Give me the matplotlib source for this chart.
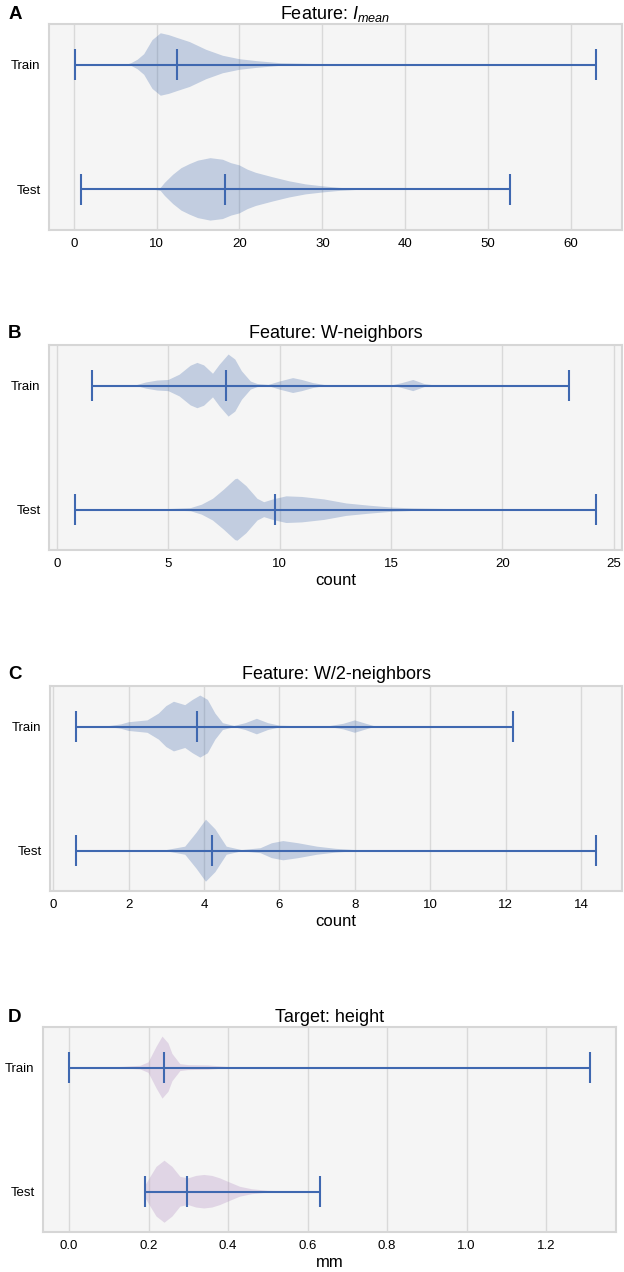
import matplotlib
matplotlib.use("Agg")
import matplotlib.pyplot as plt

plt.rcParams['font.family'] = ['Liberation Sans', 'DejaVu Sans']
plt.rcParams['mathtext.fontset'] = 'custom'
plt.rcParams['mathtext.rm'] = 'Liberation Sans'
plt.rcParams['mathtext.it'] = 'Liberation Sans:italic'

groups = ['Train', 'Test']

# ---- panel A: I_mean (density profiles, relative) ----
a_train_x = [0.15, 6.5, 7.0, 7.7, 8.5, 9.5, 10.5, 11.5, 12.5, 14, 16, 18, 20, 22, 25, 30, 35, 63.0]
a_train_d = [0.0, 0.0, 0.05, 0.15, 0.33, 0.78, 1.0, 0.94, 0.85, 0.72, 0.47, 0.28, 0.17, 0.11, 0.04, 0.01, 0.0, 0.0]
a_train_stats = dict(min=0.15, max=63.0, median=12.4)
a_test_x = [0.87, 9.5, 10.5, 11, 12, 13, 14, 15, 16.5, 18, 19, 20, 21, 22, 24, 26, 28, 30, 32, 34, 36, 52.7]
a_test_d = [0.0, 0.0, 0.05, 0.21, 0.47, 0.68, 0.81, 0.92, 1.0, 0.95, 0.84, 0.77, 0.63, 0.53, 0.39, 0.26, 0.16, 0.1, 0.05, 0.02, 0.0, 0.0]
a_test_stats = dict(min=0.87, max=52.7, median=18.2)

# ---- panel B: W-neighbors ----
b_train_x = [1.6, 3.5, 4.0, 4.5, 5.0, 5.5, 6.0, 6.3, 6.6, 7.0, 7.3, 7.7, 8.0, 8.3, 8.7, 9.0, 9.5,
             10.0, 10.6, 11.0, 11.5, 12.0, 13.0, 15.0, 15.5, 16.0, 16.5, 17.0, 23.0]
b_train_d = [0.0, 0.0, 0.1, 0.16, 0.18, 0.35, 0.64, 0.73, 0.65, 0.38, 0.67, 1.0, 0.84, 0.46, 0.13, 0.05, 0.02,
             0.13, 0.24, 0.18, 0.08, 0.02, 0.0, 0.0, 0.08, 0.18, 0.05, 0.0, 0.0]
b_train_stats = dict(min=1.58, max=23.0, median=7.6)
b_test_x = [0.8, 4.5, 5.0, 6.0, 6.5, 7.0, 7.5, 8.0, 8.1, 8.5, 9.0, 9.3, 9.7, 10.3, 11.0, 12.0, 13.0,
            14.0, 15.0, 16.0, 18.0, 20.0, 22.0, 24.2]
b_test_d = [0.0, 0.0, 0.02, 0.05, 0.16, 0.35, 0.65, 0.98, 1.0, 0.76, 0.35, 0.24, 0.33, 0.43, 0.41, 0.33, 0.2,
            0.13, 0.07, 0.04, 0.015, 0.005, 0.0, 0.0]
b_test_stats = dict(min=0.8, max=24.2, median=9.8)

# ---- panel C: W/2-neighbors ----
c_train_x = [0.6, 1.3, 1.5, 1.8, 2.0, 2.5, 2.8, 3.0, 3.2, 3.5, 3.7, 3.9, 4.1, 4.3, 4.5, 4.8, 5.1, 5.4,
             5.7, 6.0, 6.5, 7.3, 7.7, 8.0, 8.3, 8.5, 9.0, 12.2]
c_train_d = [0.0, 0.0, 0.02, 0.07, 0.14, 0.2, 0.42, 0.66, 0.8, 0.69, 0.86, 1.0, 0.86, 0.42, 0.11, 0.02, 0.11, 0.25,
             0.11, 0.03, 0.01, 0.01, 0.09, 0.2, 0.09, 0.02, 0.0, 0.0]
c_train_stats = dict(min=0.6, max=12.2, median=3.8)
c_test_x = [0.6, 2.5, 3.0, 3.5, 3.8, 4.05, 4.3, 4.6, 5.0, 5.5, 5.8, 6.1, 6.5, 7.0, 7.5, 8.0, 9.0, 14.4]
c_test_d = [0.0, 0.01, 0.02, 0.13, 0.58, 1.0, 0.69, 0.13, 0.02, 0.08, 0.24, 0.31, 0.24, 0.13, 0.06, 0.02, 0.0, 0.0]
c_test_stats = dict(min=0.6, max=14.4, median=4.2)

# ---- panel D: height (mm) ----
d_train_x = [0.0, 0.1, 0.13, 0.18, 0.2, 0.22, 0.235, 0.25, 0.26, 0.28, 0.3, 0.35, 0.4, 0.45, 1.31]
d_train_d = [0.0, 0.0, 0.02, 0.06, 0.17, 0.67, 1.0, 0.78, 0.44, 0.11, 0.08, 0.07, 0.02, 0.0, 0.0]
d_train_stats = dict(min=0.0, max=1.31, median=0.24)
d_test_x = [0.19, 0.2, 0.22, 0.24, 0.26, 0.28, 0.3, 0.32, 0.34, 0.36, 0.38, 0.4, 0.43, 0.46, 0.5, 0.55, 0.63]
d_test_d = [0.16, 0.38, 0.8, 1.0, 0.8, 0.48, 0.43, 0.51, 0.54, 0.51, 0.43, 0.32, 0.16, 0.08, 0.03, 0.01, 0.0]
d_test_stats = dict(min=0.19, max=0.63, median=0.297)

panels = [
    ('A', r'Feature: $I_{mean}$', None, [(a_train_x, a_train_d, a_train_stats), (a_test_x, a_test_d, a_test_stats)], '#4c72b0'),
    ('B', 'Feature: W-neighbors', 'count', [(b_train_x, b_train_d, b_train_stats), (b_test_x, b_test_d, b_test_stats)], '#4c72b0'),
    ('C', 'Feature: W/2-neighbors', 'count', [(c_train_x, c_train_d, c_train_stats), (c_test_x, c_test_d, c_test_stats)], '#4c72b0'),
    ('D', 'Target: height', 'mm', [(d_train_x, d_train_d, d_train_stats), (d_test_x, d_test_d, d_test_stats)], '#b28dc0'),
]

# axes boxes in figure fraction: left, bottom, width, height
boxes = [
    [0.0785, 0.8192, 0.918, 0.162],
    [0.0785, 0.5676, 0.918, 0.161],
    [0.080, 0.2995, 0.917, 0.161],
    [0.069, 0.0314, 0.918, 0.161],
]
# gap between axes top and title baseline, in pixels
title_gaps = [5, 7, 7, 5]

line_col = '#3f68b0'

fig = plt.figure(figsize=(6.24, 12.72), dpi=100)

for (letter, title, xlabel, series, body_col), box, gap in zip(panels, boxes, title_gaps):
    ax = fig.add_axes(box)
    ax.set_facecolor('#f5f5f5')
    vpstats = []
    for xs, ds, st in series:
        vpstats.append(dict(coords=xs, vals=ds, mean=st['median'],
                            median=st['median'], min=st['min'], max=st['max']))
    parts = ax.violin(vpstats, positions=[1, 2], vert=False, widths=0.5,
                      showmeans=False, showextrema=True, showmedians=True)
    for b in parts['bodies']:
        b.set_facecolor(body_col)
        b.set_edgecolor('none')
        b.set_alpha(0.3)
    for key in ['cmins', 'cmaxes', 'cbars', 'cmedians']:
        parts[key].set_color(line_col)
        parts[key].set_linewidth(1.5)
    ax.invert_yaxis()
    ax.set_yticks([1, 2])
    ax.set_yticklabels(groups)
    ax.tick_params(axis='both', length=0, labelsize=9.5, pad=6)
    ax.grid(axis='x', color='#d9d9d9', linewidth=1.0)
    ax.set_axisbelow(True)
    for s in ax.spines.values():
        s.set_color('#d6d6d6')
        s.set_linewidth(1.5)
    top = box[1] + box[3] + gap / 1272
    fig.text(box[0] + box[2] / 2, top, title, fontsize=13, ha='center', va='baseline')
    fig.text(0.013, top, letter, fontsize=13.5, fontweight='bold', ha='left', va='baseline')
    if xlabel:
        ax.set_xlabel(xlabel, fontsize=12, labelpad=2)

fig.savefig('out.png', dpi=100)
